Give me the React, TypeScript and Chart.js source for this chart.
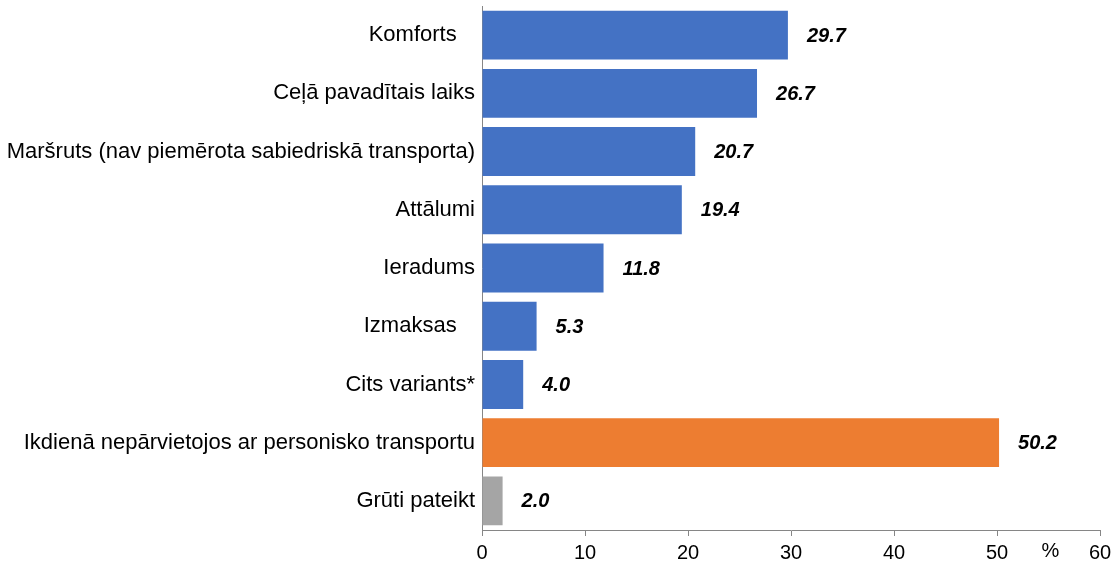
import React, { useEffect, useRef } from "react";
import { Chart, registerables } from "chart.js";

Chart.register(...registerables);

const categories = [
  "Komforts   ",
  "Ceļā pavadītais laiks",
  "Maršruts (nav piemērota sabiedriskā transporta)",
  "Attālumi",
  "Ieradums",
  "Izmaksas   ",
  "Cits variants*",
  "Ikdienā nepārvietojos ar personisko transportu",
  "Grūti pateikt",
];
const values = [29.7, 26.7, 20.7, 19.4, 11.8, 5.3, 4.0, 50.2, 2.0];
const barColors = [
  "#4472C4", "#4472C4", "#4472C4", "#4472C4", "#4472C4", "#4472C4", "#4472C4",
  "#ED7D31", "#A5A5A5",
];
const xTicks = [0, 10, 20, 30, 40, 50, 60];
const unitLabel = "%";
const unitPosition = 55;

const FONT = "Arial, 'Liberation Sans', sans-serif";

const labelPlugin = {
  id: "valueLabels",
  afterDatasetsDraw(chart: any) {
    const ctx = chart.ctx;
    const meta = chart.getDatasetMeta(0);
    ctx.save();
    ctx.font = `italic bold 20px ${FONT}`;
    ctx.fillStyle = "#000";
    ctx.textAlign = "left";
    ctx.textBaseline = "middle";
    meta.data.forEach((bar: any, i: number) => {
      ctx.fillText(values[i].toFixed(1), bar.x + 19, bar.y + 1);
    });
    const xs = chart.scales.x;
    ctx.font = `20px ${FONT}`;
    ctx.textAlign = "center";
    ctx.textBaseline = "middle";
    ctx.fillText(unitLabel, xs.getPixelForValue(unitPosition) + 2, xs.top + 21);
    ctx.restore();
  },
};

export default function App() {
  const ref = useRef<HTMLCanvasElement | null>(null);
  useEffect(() => {
    if (!ref.current) return;
    const chart = new Chart(ref.current, {
      type: "bar",
      data: {
        labels: categories,
        datasets: [
          {
            data: values,
            backgroundColor: barColors,
            barPercentage: 0.84,
            categoryPercentage: 1,
          },
        ],
      },
      options: {
        indexAxis: "y",
        animation: false,
        responsive: true,
        maintainAspectRatio: false,
        layout: { padding: { top: 6, right: 17, left: 0, bottom: 0 } },
        plugins: {
          legend: { display: false },
          tooltip: { enabled: false },
        },
        scales: {
          x: {
            min: 0,
            max: 60,
            afterBuildTicks: (s: any) => {
              s.ticks = xTicks.map((v) => ({ value: v }));
            },
            afterFit: (s: any) => {
              s.height = 37;
            },
            grid: {
              display: true,
              drawOnChartArea: false,
              drawTicks: true,
              tickLength: 6,
              color: "#868686",
            },
            border: { display: true, color: "#868686", width: 1 },
            ticks: {
              color: "#000",
              font: { family: FONT, size: 20 },
              padding: 5,
              maxRotation: 0,
            },
          },
          y: {
            afterFit: (s: any) => {
              s.width = 482;
              s.paddingTop = 0;
              s.paddingBottom = 0;
            },
            grid: { display: false, drawTicks: false },
            border: { display: true, color: "#868686", width: 1 },
            ticks: {
              color: "#000",
              font: { family: FONT, size: 22 },
              padding: 7,
              autoSkip: false,
            },
          },
        },
      },
      plugins: [labelPlugin],
    });
    return () => chart.destroy();
  }, []);
  return (
    <div style={{ position: "fixed", left: 0, top: 0, width: 1117, height: 567, background: "#fff" }}>
      <canvas ref={ref} />
    </div>
  );
}
